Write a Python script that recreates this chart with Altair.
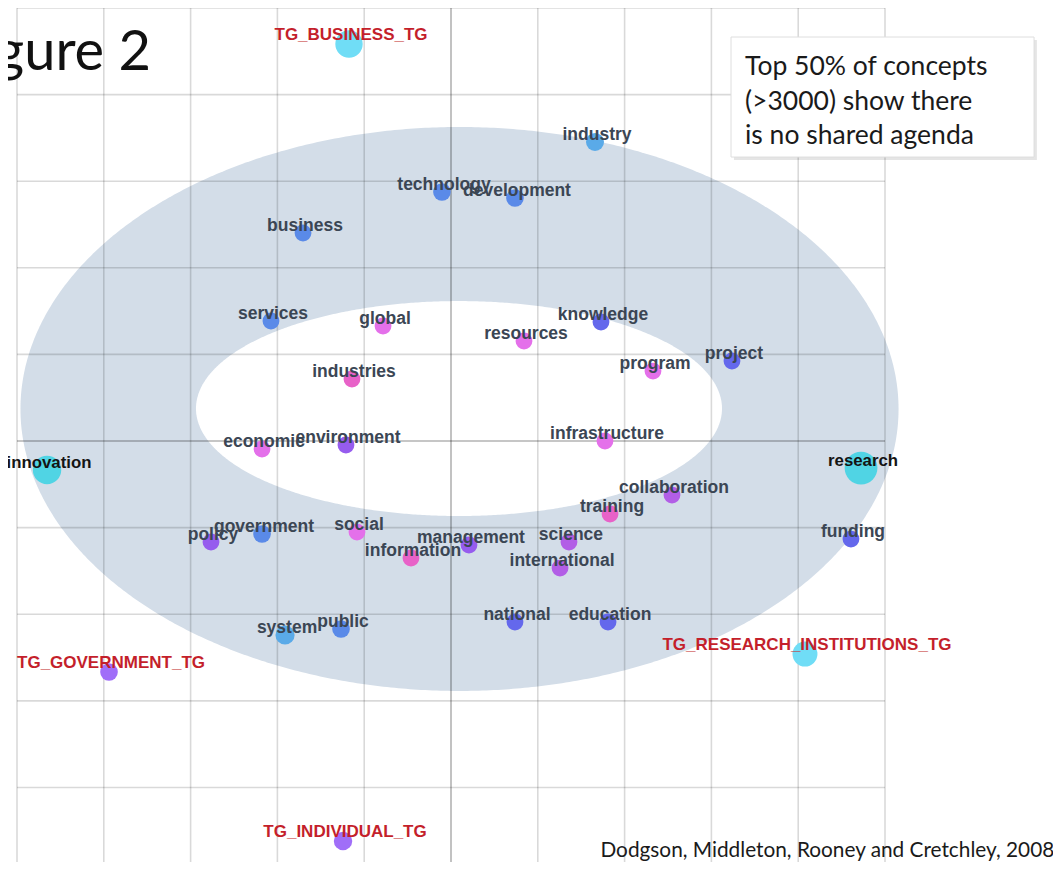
import altair as alt
import numpy as np
import pandas as pd

# ---- concept map data (map units: one grid cell = 1) ----
concepts = [
    "TG_BUSINESS_TG", "industry", "technology", "development", "business",
    "services", "global", "knowledge", "resources", "program", "project",
    "industries", "economic", "environment", "infrastructure", "innovation",
    "research", "collaboration", "training", "policy", "government", "social",
    "information", "management", "science", "international", "funding",
    "system", "public", "national", "education", "TG_GOVERNMENT_TG",
    "TG_RESEARCH_INSTITUTIONS_TG", "TG_INDIVIDUAL_TG",
]
map_x = [
    -1.175, 1.659, -0.104, 0.737, -1.705,
    -2.074, -0.783, 1.728, 0.841, 2.327, 3.237,
    -1.141, -2.177, -1.210, 1.774, -4.654,
    4.724, 2.546, 1.832, -2.765, -2.177, -1.083,
    -0.461, 0.207, 1.359, 1.256, 4.608,
    -1.912, -1.267, 0.737, 1.809, -3.940,
    4.078, -1.244,
]
map_y = [
    4.584, 3.453, 2.875, 2.806, 2.402,
    1.386, 1.328, 1.374, 1.155, 0.808, 0.924,
    0.716, -0.092, -0.046, 0.000, -0.335,
    -0.312, -0.624, -0.843, -1.166, -1.074, -1.051,
    -1.351, -1.201, -1.166, -1.467, -1.132,
    -2.240, -2.171, -2.090, -2.090, -2.667,
    -2.460, -4.619,
]
themes = [
    "aqua", "sky", "blue", "blue", "blue",
    "blue", "magenta", "indigo", "magenta", "magenta", "indigo",
    "pink", "magenta", "violet", "magenta", "cyan",
    "cyan", "purple", "pink", "violet", "blue", "magenta",
    "pink", "violet", "purple", "purple", "indigo",
    "sky", "blue", "indigo", "indigo", "lilac",
    "aqua", "lilac",
]
weights = [
    2.65, 1.15, 1.1, 1.1, 1.0,
    1.0, 1.0, 1.0, 1.0, 1.0, 1.0,
    1.0, 1.0, 1.0, 1.0, 2.85,
    3.8, 1.0, 1.0, 1.0, 1.1, 1.0,
    1.0, 1.0, 1.0, 1.0, 1.0,
    1.3, 1.1, 1.0, 1.0, 1.1,
    2.2, 1.2,
]
kinds = [
    "tag", "concept", "concept", "concept", "concept",
    "concept", "concept", "concept", "concept", "concept", "concept",
    "concept", "concept", "concept", "concept", "hot",
    "hot", "concept", "concept", "concept", "concept", "concept",
    "concept", "concept", "concept", "concept", "concept",
    "concept", "concept", "concept", "concept", "tag",
    "tag", "tag",
]

theme_names = ["aqua", "cyan", "sky", "blue", "indigo", "violet", "lilac", "purple", "magenta", "pink"]
theme_colors = ["#70ddf6", "#50d4e4", "#5aaae8", "#5a8ae8", "#6468ec", "#965cee", "#a06ef8", "#b25ee6", "#e470ea", "#e862c8"]

# theme rings (centre and radii in map units)
outer_ring = {"cx": 0.098, "cy": 0.370, "rx": 5.058, "ry": 3.256}
inner_ring = {"cx": 0.092, "cy": 0.375, "rx": 3.030, "ry": 1.241}

grid_values = list(range(-5, 6))

note_lines = ["Top 50% of concepts", "(>3000) show there", "is no shared agenda"]
citation = "Dodgson, Middleton, Rooney and Cretchley, 2008"
fig_title = "Figure 2"

# ---- build tables ----
points = pd.DataFrame({
    "concept": concepts, "mx": map_x, "my": map_y,
    "theme": themes, "weight": weights, "kind": kinds,
})

Y_MIN, Y_MAX = -4.861, 5.0
xs = alt.Scale(domain=[-5, 5], nice=False, zero=False)
ys = alt.Scale(domain=[Y_MIN, Y_MAX], nice=False, zero=False)

t = np.linspace(0, np.pi, 361)


def ring_table(e):
    return pd.DataFrame({
        "ex": e["cx"] + e["rx"] * np.cos(t),
        "top": e["cy"] + e["ry"] * np.sin(t),
        "bot": e["cy"] - e["ry"] * np.sin(t),
    })


def ring_layer(e, color):
    return alt.Chart(ring_table(e)).mark_area(color=color, opacity=1).encode(
        x=alt.X("ex:Q", scale=xs, axis=None),
        y=alt.Y("top:Q", scale=ys, axis=None),
        y2="bot:Q",
    )


outer = ring_layer(outer_ring, "#d3dde8")
inner = ring_layer(inner_ring, "#ffffff")

vgrid = pd.DataFrame({"gx": grid_values, "g0": Y_MAX, "g1": Y_MIN})
hgrid = pd.DataFrame({"gy": [v for v in grid_values if v > -5], "g0": -5.0, "g1": 5.0})

vlines = alt.Chart(vgrid).mark_rule(strokeWidth=1.6, color="#000000").encode(
    x=alt.X("gx:Q", scale=xs, axis=None),
    y=alt.Y("g0:Q", scale=ys, axis=None),
    y2="g1:Q",
    opacity=alt.condition("datum.gx == 0", alt.value(0.30), alt.value(0.15)),
)
hlines = alt.Chart(hgrid).mark_rule(strokeWidth=1.6, color="#000000").encode(
    y=alt.Y("gy:Q", scale=ys, axis=None),
    x=alt.X("g0:Q", scale=xs, axis=None),
    x2="g1:Q",
    opacity=alt.condition("datum.gy == 0", alt.value(0.30), alt.value(0.15)),
)

dots = alt.Chart(points).mark_circle(opacity=1).encode(
    x=alt.X("mx:Q", scale=xs, axis=None),
    y=alt.Y("my:Q", scale=ys, axis=None),
    color=alt.Color("theme:N", scale=alt.Scale(domain=theme_names, range=theme_colors), legend=None),
    size=alt.Size("weight:Q", scale=alt.Scale(domain=[1, 3.8], range=[283, 1075], zero=False), legend=None),
)


def label_layer(kind, size, dy, fill):
    return alt.Chart(points).transform_filter(f"datum.kind == '{kind}'").mark_text(
        font="Liberation Sans", fontWeight="bold", fontSize=size, dx=2, dy=dy,
        align="center", baseline="middle", fill=fill,
    ).encode(
        x=alt.X("mx:Q", scale=xs, axis=None),
        y=alt.Y("my:Q", scale=ys, axis=None),
        text="concept:N",
    )


concept_labels = label_layer("concept", 17.5, -7, "#3b4654")
hot_labels = label_layer("hot", 16.8, -7, "#141414")
tag_labels = label_layer("tag", 17, -9, "#c41f2b")

base = alt.Chart(pd.DataFrame({"a": [0]}))

title_txt = base.mark_text(
    text=fig_title, font="Lato", fontSize=56, align="right", baseline="alphabetic", fill="#111111",
).encode(x=alt.datum(-3.456, scale=xs), y=alt.datum(4.284, scale=ys))

shadow = base.mark_rect(fill="#000000", opacity=0.10).encode(
    x=alt.datum(3.26, scale=xs), x2=alt.datum(6.75),
    y=alt.datum(4.63, scale=ys), y2=alt.datum(3.245),
)
box = base.mark_rect(fill="#ffffff", stroke="#dedede", strokeWidth=1).encode(
    x=alt.datum(3.226, scale=xs), x2=alt.datum(6.717),
    y=alt.datum(4.665, scale=ys), y2=alt.datum(3.279),
)
note = base.mark_text(
    text=note_lines, font="Lato", fontSize=26.5, lineHeight=34.5,
    align="left", baseline="alphabetic", fill="#1a1a1a",
).encode(x=alt.datum(3.387, scale=xs), y=alt.datum(4.226, scale=ys))

cite = base.mark_text(
    text=citation, font="Lato", fontSize=20.8, align="right", baseline="alphabetic", fill="#1a1a1a",
).encode(x=alt.datum(6.95, scale=xs), y=alt.datum(-4.80, scale=ys))

chart = alt.layer(
    outer, inner, vlines, hlines, dots, concept_labels, hot_labels, tag_labels,
    title_txt, shadow, box, note, cite,
).properties(
    width=868, height=854,
    autosize=alt.AutoSizeParams(type="none"),
    padding={"left": 9, "top": 0, "right": 168, "bottom": 0},
    background="#ffffff",
).configure_view(stroke=None)

chart.save("out.html", embed_options={"renderer": "svg", "actions": False})
